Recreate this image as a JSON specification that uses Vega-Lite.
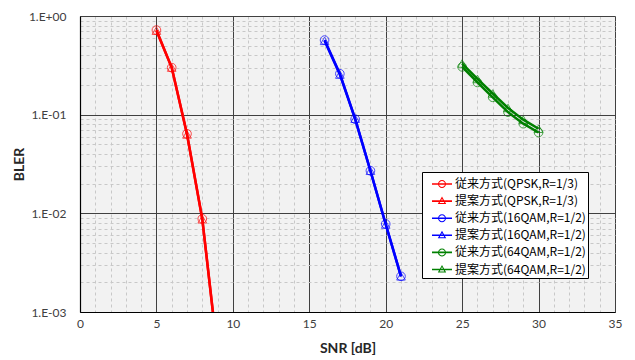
{
  "$schema": "https://vega.github.io/schema/vega-lite/v6.json",
  "width": 535,
  "height": 296,
  "autosize": {"type": "none"},
  "padding": {"left": 80, "top": 16, "right": 20, "bottom": 48},
  "background": "white",
  "view": {"fill": "#f2f2f2", "stroke": null},
  "config": {
    "font": "Lato",
    "axis": {"labelFont": "Lato", "labelFontSize": 12, "labelColor": "#404040", "titleFont": "Lato", "titleFontSize": 14, "titleFontWeight": "bold", "titleColor": "#262626", "ticks": false, "domainColor": "#000000", "domainWidth": 1.2},
    "legend": {"labelFont": "Noto Sans CJK JP", "labelFontSize": 12, "labelColor": "#000000"}
  },
  "data": {"values": [
    {"s": "従来方式(QPSK,R=1/3)", "snr": 5, "bler": 0.72},
    {"s": "従来方式(QPSK,R=1/3)", "snr": 6, "bler": 0.30},
    {"s": "従来方式(QPSK,R=1/3)", "snr": 7, "bler": 0.064},
    {"s": "従来方式(QPSK,R=1/3)", "snr": 8, "bler": 0.0088},
    {"s": "従来方式(QPSK,R=1/3)", "snr": 9, "bler": 0.00039},
    {"s": "提案方式(QPSK,R=1/3)", "snr": 5, "bler": 0.71},
    {"s": "提案方式(QPSK,R=1/3)", "snr": 6, "bler": 0.30},
    {"s": "提案方式(QPSK,R=1/3)", "snr": 7, "bler": 0.063},
    {"s": "提案方式(QPSK,R=1/3)", "snr": 8, "bler": 0.0087},
    {"s": "提案方式(QPSK,R=1/3)", "snr": 9, "bler": 0.00038},
    {"s": "従来方式(16QAM,R=1/2)", "snr": 16, "bler": 0.57},
    {"s": "従来方式(16QAM,R=1/2)", "snr": 17, "bler": 0.26},
    {"s": "従来方式(16QAM,R=1/2)", "snr": 18, "bler": 0.09},
    {"s": "従来方式(16QAM,R=1/2)", "snr": 19, "bler": 0.027},
    {"s": "従来方式(16QAM,R=1/2)", "snr": 20, "bler": 0.0078},
    {"s": "従来方式(16QAM,R=1/2)", "snr": 21, "bler": 0.0023},
    {"s": "提案方式(16QAM,R=1/2)", "snr": 16, "bler": 0.56},
    {"s": "提案方式(16QAM,R=1/2)", "snr": 17, "bler": 0.255},
    {"s": "提案方式(16QAM,R=1/2)", "snr": 18, "bler": 0.091},
    {"s": "提案方式(16QAM,R=1/2)", "snr": 19, "bler": 0.027},
    {"s": "提案方式(16QAM,R=1/2)", "snr": 20, "bler": 0.0077},
    {"s": "提案方式(16QAM,R=1/2)", "snr": 21, "bler": 0.0023},
    {"s": "従来方式(64QAM,R=1/2)", "snr": 25, "bler": 0.305},
    {"s": "従来方式(64QAM,R=1/2)", "snr": 26, "bler": 0.212},
    {"s": "従来方式(64QAM,R=1/2)", "snr": 27, "bler": 0.150},
    {"s": "従来方式(64QAM,R=1/2)", "snr": 28, "bler": 0.106},
    {"s": "従来方式(64QAM,R=1/2)", "snr": 29, "bler": 0.081},
    {"s": "従来方式(64QAM,R=1/2)", "snr": 30, "bler": 0.066},
    {"s": "提案方式(64QAM,R=1/2)", "snr": 25, "bler": 0.33},
    {"s": "提案方式(64QAM,R=1/2)", "snr": 26, "bler": 0.23},
    {"s": "提案方式(64QAM,R=1/2)", "snr": 27, "bler": 0.164},
    {"s": "提案方式(64QAM,R=1/2)", "snr": 28, "bler": 0.117},
    {"s": "提案方式(64QAM,R=1/2)", "snr": 29, "bler": 0.089},
    {"s": "提案方式(64QAM,R=1/2)", "snr": 30, "bler": 0.072}
  ]},
  "encoding": {
    "x": {"field": "snr", "type": "quantitative", "title": "SNR [dB]",
      "scale": {"domain": [0, 35], "nice": false, "zero": false},
      "axis": {
        "values": [0,1,2,3,4,5,6,7,8,9,10,11,12,13,14,15,16,17,18,19,20,21,22,23,24,25,26,27,28,29,30,31,32,33,34,35],
        "labelExpr": "datum.value % 5 == 0 ? datum.label : ''",
        "labelPadding": 6, "titlePadding": 12, "labelFlush": false,
        "grid": true,
        "gridColor": {"condition": {"test": "datum.value % 5 == 0", "value": "#404040"}, "value": "#c8c8c8"},
        "gridDash": {"condition": {"test": "datum.value % 5 == 0", "value": []}, "value": [3, 3]},
        "gridWidth": 1
      }
    },
    "y": {"field": "bler", "type": "quantitative", "title": "BLER",
      "scale": {"type": "log", "domain": [0.001, 1], "nice": false},
      "axis": {
        "values": [0.001,0.002,0.003,0.004,0.005,0.006,0.007,0.008,0.009,0.01,0.02,0.03,0.04,0.05,0.06,0.07,0.08,0.09,0.1,0.2,0.3,0.4,0.5,0.6,0.7,0.8,0.9,1],
        "labelExpr": "abs(log(datum.value)/LN10 - round(log(datum.value)/LN10)) < 0.001 ? (datum.value >= 0.99 ? '1.E+00' : '1.E-0' + round(-log(datum.value)/LN10)) : ''",
        "labelPadding": 14, "titlePadding": 2, "labelFlush": false,
        "grid": true,
        "gridColor": {"condition": {"test": "abs(log(datum.value)/LN10 - round(log(datum.value)/LN10)) < 0.001", "value": "#404040"}, "value": "#c8c8c8"},
        "gridDash": {"condition": {"test": "abs(log(datum.value)/LN10 - round(log(datum.value)/LN10)) < 0.001", "value": []}, "value": [3, 3]},
        "gridWidth": 1
      }
    }
  },
  "layer": [
    {
      "mark": {"type": "line", "strokeWidth": 2.5, "clip": true},
      "encoding": {
        "color": {"field": "s", "type": "nominal", "sort": null,
          "scale": {"domain": ["従来方式(QPSK,R=1/3)", "提案方式(QPSK,R=1/3)", "従来方式(16QAM,R=1/2)", "提案方式(16QAM,R=1/2)", "従来方式(64QAM,R=1/2)", "提案方式(64QAM,R=1/2)"],
            "range": ["#ff0000", "#ff0000", "#0000ff", "#0000ff", "#008000", "#008000"]},
          "legend": {"title": null, "orient": "none", "legendX": 342, "legendY": 156,
            "symbolSize": 400, "symbolOffset": 8, "rowPadding": 1.1, "labelOffset": 3, "padding": 2,
            "fillColor": "white", "strokeColor": "#000000",
            "encode": {
              "symbols": {"update": {
                "shape": {"signal": "indexof(datum.value, '従来') == 0 ? 'M-1,-0.08H1V0.08H-1Z M0.4,0A0.4,0.4,0,1,1,-0.4,0A0.4,0.4,0,1,1,0.4,0Z M0.3,0A0.3,0.3,0,1,0,-0.3,0A0.3,0.3,0,1,0,0.3,0Z' : 'M-1,-0.08H1V0.08H-1Z M0,-0.45L0.42,0.3L-0.42,0.3Z M0,-0.24L-0.24,0.2L0.24,0.2Z'"},
                "fill": {"signal": "indexof(datum.value, 'QPSK') >= 0 ? '#ff0000' : (indexof(datum.value, '16QAM') >= 0 ? '#0000ff' : '#008000')"},
                "fillOpacity": {"value": 1},
                "stroke": {"value": "transparent"},
                "strokeWidth": {"value": 0}
              }}
            }
          }
        }
      }
    },
    {
      "mark": {"type": "point", "filled": false, "size": 75, "strokeWidth": 1, "clip": true},
      "encoding": {
        "color": {"field": "s", "type": "nominal", "sort": null,
          "scale": {"domain": ["従来方式(QPSK,R=1/3)", "提案方式(QPSK,R=1/3)", "従来方式(16QAM,R=1/2)", "提案方式(16QAM,R=1/2)", "従来方式(64QAM,R=1/2)", "提案方式(64QAM,R=1/2)"],
            "range": ["#ff0000", "#ff0000", "#0000ff", "#0000ff", "#008000", "#008000"]},
          "legend": null
        },
        "shape": {"field": "s", "type": "nominal", "sort": null,
          "scale": {"domain": ["従来方式(QPSK,R=1/3)", "提案方式(QPSK,R=1/3)", "従来方式(16QAM,R=1/2)", "提案方式(16QAM,R=1/2)", "従来方式(64QAM,R=1/2)", "提案方式(64QAM,R=1/2)"],
            "range": ["circle", "triangle-up", "circle", "triangle-up", "circle", "triangle-up"]},
          "legend": null
        }
      }
    }
  ],
  "resolve": {"scale": {"color": "independent"}}
}
